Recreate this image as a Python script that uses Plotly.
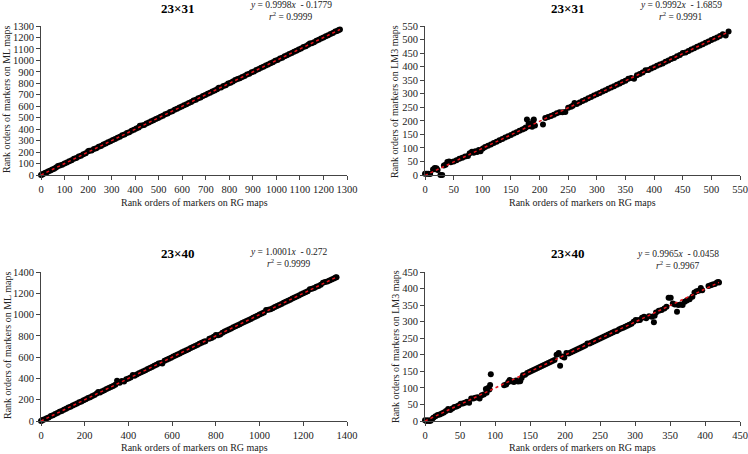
import plotly.graph_objects as go

# ---------------- data ----------------
# Panel 1: 23x31, ML vs RG
x1 = [0, 4, 8, 13, 19, 25, 32, 40, 48, 56,
      64, 72, 80, 90, 100, 110, 120, 130, 140, 150,
      160, 170, 180, 190, 200, 205, 215, 225, 235, 245,
      255, 265, 275, 285, 295, 305, 315, 325, 335, 345,
      355, 365, 375, 385, 395, 405, 415, 420, 428, 438,
      448, 458, 468, 478, 488, 498, 508, 518, 528, 538,
      548, 558, 568, 578, 588, 598, 608, 618, 628, 638,
      648, 658, 668, 678, 688, 698, 708, 718, 728, 738,
      748, 755, 765, 775, 785, 795, 805, 815, 825, 835,
      845, 855, 865, 875, 885, 895, 905, 915, 925, 935,
      945, 955, 965, 975, 985, 995, 1005, 1015, 1025, 1035,
      1045, 1055, 1065, 1075, 1085, 1095, 1105, 1115, 1125, 1135,
      1142, 1150, 1160, 1170, 1180, 1190, 1200, 1210, 1220, 1230,
      1240, 1250, 1258, 1265, 1270]
y1 = [1, 3, 9, 12, 20, 24, 33, 39, 49, 55,
      66, 78, 82, 89, 101, 109, 121, 129, 141, 149,
      161, 169, 181, 189, 208, 212, 214, 226, 234, 246,
      254, 266, 274, 286, 294, 306, 314, 326, 334, 346,
      354, 366, 374, 386, 394, 406, 414, 430, 432, 437,
      449, 457, 469, 477, 489, 497, 509, 517, 529, 537,
      549, 557, 569, 577, 589, 597, 609, 617, 629, 637,
      649, 657, 669, 677, 689, 697, 709, 717, 729, 737,
      749, 762, 764, 776, 784, 798, 804, 816, 828, 838,
      844, 856, 864, 876, 884, 896, 904, 916, 924, 936,
      944, 956, 964, 976, 984, 996, 1004, 1016, 1024, 1036,
      1044, 1056, 1064, 1076, 1084, 1096, 1104, 1116, 1124, 1136,
      1148, 1150, 1159, 1171, 1179, 1191, 1199, 1211, 1219, 1231,
      1239, 1251, 1257, 1266, 1269]

# Panel 2: 23x31, LM3 vs RG
x2 = [0, 3, 6, 9, 14, 17, 20, 22, 27, 30,
      33, 36, 39, 42, 45, 50, 55, 60, 65, 70,
      75, 78, 82, 85, 88, 91, 94, 97, 101, 105,
      110, 115, 120, 125, 130, 135, 140, 145, 150, 155,
      160, 165, 170, 174, 178, 181, 184, 187, 190, 192,
      206, 210, 215, 220, 225, 230, 235, 240, 245, 250,
      255, 258, 261, 265, 270, 275, 280, 285, 290, 295,
      300, 305, 310, 315, 320, 325, 330, 335, 340, 345,
      350, 355, 360, 365, 370, 375, 380, 385, 390, 395,
      400, 405, 410, 415, 420, 425, 430, 435, 440, 445,
      450, 455, 460, 465, 470, 475, 480, 485, 490, 495,
      500, 505, 510, 515, 520, 525, 530, 181, 176, 189]
y2 = [5, 5, 5, 4, 20, 26, 25, 18, 0, 0,
      35, 38, 48, 50, 47, 50, 54, 60, 64, 68,
      70, 80, 86, 82, 88, 85, 92, 88, 98, 103,
      108, 113, 118, 123, 128, 133, 138, 143, 148, 153,
      158, 163, 168, 172, 205, 180, 185, 178, 205, 183,
      186, 210, 214, 218, 222, 228, 232, 232, 233, 248,
      252, 256, 266, 262, 268, 273, 278, 283, 288, 293,
      298, 303, 308, 313, 318, 323, 328, 333, 338, 343,
      348, 355, 358, 355, 368, 373, 378, 387, 388, 393,
      398, 403, 408, 412, 418, 423, 428, 432, 438, 443,
      450, 452, 458, 463, 468, 473, 478, 483, 488, 493,
      498, 503, 508, 513, 520, 515, 530, 190, 175, 200]

# Panel 3: 23x40, ML vs RG
x3 = [0, 5, 10, 18, 26, 35, 45, 55, 65, 75,
      85, 95, 105, 115, 125, 135, 145, 155, 165, 175,
      185, 195, 205, 215, 225, 235, 245, 255, 262, 270,
      280, 290, 300, 310, 320, 330, 340, 348, 352, 360,
      370, 380, 390, 400, 410, 420, 428, 438, 448, 458,
      468, 478, 488, 498, 508, 518, 528, 538, 548, 555,
      565, 575, 585, 595, 605, 615, 625, 635, 645, 655,
      665, 675, 685, 695, 705, 715, 725, 735, 745, 752,
      770, 780, 790, 800, 810, 820, 830, 840, 850, 860,
      870, 880, 890, 900, 910, 920, 930, 940, 950, 960,
      970, 980, 990, 1000, 1010, 1020, 1030, 1040, 1050, 1060,
      1070, 1080, 1090, 1100, 1110, 1120, 1130, 1140, 1150, 1160,
      1170, 1180, 1190, 1200, 1210, 1220, 1230, 1240, 1250, 1260,
      1270, 1280, 1290, 1300, 1310, 1320, 1330, 1340, 1348, 1352]
y3 = [1, 4, 11, 17, 27, 34, 46, 54, 66, 74,
      86, 94, 106, 114, 126, 134, 146, 156, 164, 176,
      184, 196, 204, 216, 224, 236, 244, 258, 272, 268,
      280, 290, 300, 310, 320, 330, 340, 378, 365, 360,
      375, 372, 392, 400, 408, 432, 426, 438, 448, 458,
      468, 478, 488, 498, 508, 518, 528, 540, 545, 540,
      565, 575, 585, 595, 605, 615, 625, 635, 645, 655,
      665, 675, 685, 695, 705, 715, 725, 735, 745, 750,
      772, 780, 792, 808, 805, 812, 830, 840, 850, 860,
      870, 880, 890, 900, 910, 920, 930, 940, 950, 958,
      970, 980, 990, 1000, 1010, 1020, 1042, 1045, 1050, 1060,
      1070, 1080, 1090, 1100, 1110, 1120, 1130, 1140, 1150, 1160,
      1170, 1180, 1190, 1200, 1210, 1220, 1238, 1242, 1250, 1262,
      1268, 1280, 1298, 1305, 1310, 1320, 1330, 1340, 1348, 1350]

# Panel 4: 23x40, LM3 vs RG
x4 = [0, 2, 4, 6, 8, 10, 12, 15, 18, 21,
      24, 27, 30, 33, 36, 39, 42, 45, 48, 51,
      54, 57, 60, 63, 66, 69, 72, 75, 78, 81,
      84, 87, 88, 90, 92, 93, 94, 113, 116, 119,
      121, 124, 127, 130, 133, 136, 138, 140, 143, 146,
      149, 152, 155, 158, 161, 164, 167, 170, 173, 176,
      179, 182, 185, 188, 191, 193, 196, 199, 202, 205,
      208, 211, 214, 217, 220, 223, 226, 229, 232, 235,
      238, 241, 244, 247, 250, 253, 256, 259, 262, 265,
      268, 271, 274, 277, 280, 283, 286, 289, 292, 295,
      298, 301, 304, 307, 310, 313, 316, 320, 324, 327,
      328, 330, 334, 338, 342, 345, 348, 351, 354, 357,
      360, 362, 365, 368, 371, 374, 378, 382, 385, 388,
      391, 394, 396, 405, 408, 411, 414, 417, 419, 420]
y4 = [2, 0, 2, 0, 1, 5, 10, 14, 18, 20,
      23, 26, 30, 36, 33, 38, 42, 44, 47, 52,
      53, 55, 58, 55, 68, 68, 70, 72, 68, 78,
      80, 97, 85, 100, 95, 109, 141, 108, 110, 118,
      124, 120, 118, 122, 119, 120, 130, 138, 140, 145,
      148, 151, 154, 157, 160, 163, 166, 169, 172, 175,
      178, 181, 184, 200, 205, 167, 195, 192, 205, 204,
      207, 210, 213, 216, 219, 222, 225, 228, 234, 234,
      237, 240, 243, 246, 249, 252, 255, 258, 261, 264,
      267, 270, 272, 276, 279, 282, 285, 288, 291, 294,
      300, 305, 304, 305, 312, 315, 310, 316, 315, 298,
      318, 328, 333, 335, 340, 345, 372, 372, 355, 352,
      330, 350, 352, 350, 360, 364, 368, 375, 388, 392,
      393, 402, 395, 408, 410, 412, 414, 418, 420, 418]

titles = ["23×31", "23×31", "23×40", "23×40"]
y_titles = ["Rank orders of markers on ML maps", "Rank orders of markers on LM3 maps",
            "Rank orders of markers on ML maps", "Rank orders of markers on LM3 maps"]
x_title = "Rank orders of markers on RG maps"
slopes = [0.9998, 0.9992, 1.0001, 0.9965]
intercepts = [-0.1779, -1.6859, -0.272, -0.0458]
r2_values = ["0.9999", "0.9991", "0.9999", "0.9967"]
axis_max = [1300, 550, 1400, 450]
axis_step = [100, 50, 200, 50]

# ---------------- layout helpers ----------------
W, H = 748, 454
FONT = "Liberation Serif"

def px(x):
    return x / W

def py(y):
    return 1 - y / H

# pixel boxes of each plot area: (left, right, top, bottom)
boxes = [(41, 347, 26, 175), (425, 740, 26, 175),
         (41, 347, 272, 421), (425, 740, 272, 421)]
title_pos = [(177, 8), (567, 8), (177, 253), (567, 253)]
eq_pos = [(291, 5, 16), (681, 5, 16), (289, 252, 263), (678, 254, 265)]
xt_pos = [(194, 202), (582, 202), (194, 447), (582, 447)]
yt_pos = [(7, 100), (395, 102), (7, 346), (395, 347)]

fig = go.Figure()
xs = [x1, x2, x3, x4]
ys = [y1, y2, y3, y4]
annotations = []
for i in range(4):
    sfx = "" if i == 0 else str(i + 1)
    fig.add_trace(go.Scatter(
        x=xs[i], y=ys[i], mode="markers",
        marker=dict(color="black", size=6, line=dict(width=0)),
        xaxis="x" + sfx, yaxis="y" + sfx, cliponaxis=False, showlegend=False))
    xmin, xmax = min(xs[i]), max(xs[i])
    fig.add_trace(go.Scatter(
        x=[xmin, xmax], y=[slopes[i] * xmin + intercepts[i], slopes[i] * xmax + intercepts[i]],
        mode="lines", line=dict(color="#e8141c", width=1.5, dash="dot"),
        xaxis="x" + sfx, yaxis="y" + sfx, cliponaxis=False, showlegend=False))
    l, r, t, b = boxes[i]
    ax = dict(domain=[px(l), px(r)], range=[0, axis_max[i]], dtick=axis_step[i], tick0=0,
              showgrid=False, zeroline=False, showline=True, linecolor="#444", linewidth=1,
              ticks="outside", ticklen=4, tickcolor="#444", automargin=False, tickangle=0,
              tickfont=dict(family=FONT, size=10.5, color="#222"), fixedrange=True)
    xa = dict(ax, anchor="y" + sfx)
    ya = dict(ax, anchor="x" + sfx)
    ya["domain"] = [py(b), py(t)]
    fig.update_layout(**{"xaxis" + sfx: xa, "yaxis" + sfx: ya})

    annotations.append(dict(x=px(title_pos[i][0]), y=py(title_pos[i][1]), xref="paper", yref="paper",
                            text="<b>" + titles[i] + "</b>", showarrow=False,
                            font=dict(family=FONT, size=13, color="black"),
                            xanchor="center", yanchor="middle"))
    sign = "-" if intercepts[i] < 0 else "+"
    eq = "<i>y</i> = %s<i>x</i>  %s %s" % (("%g" % slopes[i]), sign, ("%g" % abs(intercepts[i])))
    annotations.append(dict(x=px(eq_pos[i][0]), y=py(eq_pos[i][1]), xref="paper", yref="paper",
                            text=eq, showarrow=False, font=dict(family=FONT, size=9.5, color="#222"),
                            xanchor="center", yanchor="middle"))
    annotations.append(dict(x=px(eq_pos[i][0]), y=py(eq_pos[i][2]), xref="paper", yref="paper",
                            text="<i>r</i><sup>2</sup> = " + r2_values[i], showarrow=False,
                            font=dict(family=FONT, size=9.5, color="#222"),
                            xanchor="center", yanchor="middle"))
    annotations.append(dict(x=px(xt_pos[i][0]), y=py(xt_pos[i][1]), xref="paper", yref="paper",
                            text=x_title, showarrow=False, font=dict(family=FONT, size=10, color="#222"),
                            xanchor="center", yanchor="middle"))
    annotations.append(dict(x=px(yt_pos[i][0]), y=py(yt_pos[i][1]), xref="paper", yref="paper",
                            text=y_titles[i], showarrow=False, textangle=-90,
                            font=dict(family=FONT, size=10, color="#222"),
                            xanchor="center", yanchor="middle"))

fig.update_layout(width=W, height=H, margin=dict(l=0, r=0, t=0, b=0),
                  paper_bgcolor="white", plot_bgcolor="white",
                  annotations=annotations, showlegend=False)
fig.write_html("out.html", config={"displayModeBar": False},
               post_script="document.body.style.margin='0';")
